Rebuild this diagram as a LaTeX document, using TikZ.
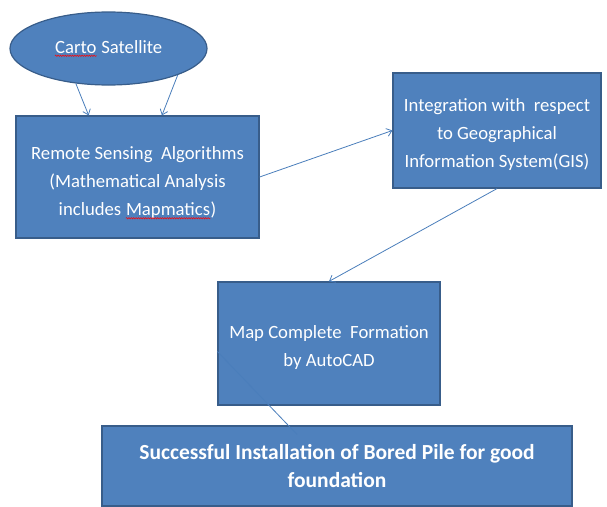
\documentclass[tikz,border=0pt]{standalone}
\usepackage{fontspec}
\setmainfont{Carlito}
\usetikzlibrary{shapes.geometric,calc,decorations.pathmorphing,arrows.meta}
\definecolor{boxfill}{HTML}{4F81BD}
\definecolor{boxline}{HTML}{385D8A}
\definecolor{linkline}{HTML}{4A7EBB}
\newcommand{\spellmark}[1]{\tikz[baseline=(w.base)]{\node[shape=rectangle,draw=none,fill=none,
        minimum width=0pt,minimum height=0pt,inner sep=0pt,text=white](w){#1};
    \draw[red,line width=0.5pt,decorate,decoration={snake,amplitude=0.7pt,segment length=2.4pt}]
    ([yshift=-2.5pt]w.base west)--([yshift=-2.5pt]w.base east);}}
\newcommand{\push}[1]{\rule{0pt}{#1pt}}
\begin{document}
\begin{tikzpicture}[x=1pt,y=-1pt,
        blockbox/.style={draw=boxline, line width=1.2pt, fill=boxfill, text=white,
            align=center, inner sep=0pt, font=\fontsize{18.7}{28}\selectfont},
        link/.style={draw=linkline, line width=0.8pt, -{Straight Barb[length=5pt,width=8pt]}}]
                \clip (0,0) rectangle (607,506);
                \node [blockbox, ellipse, minimum width=197, minimum height=73]
                    (sat) at (108.5,48.5) {\spellmark{Carto} Satellite};
                \node [blockbox, minimum width=243, minimum height=122]
                    (rsa) at (137.5,177) {\push{25}Remote Sensing\ \ Algorithms\\(Mathematical Analysis\\includes \spellmark{Mapmatics})};
                \node [blockbox, minimum width=208, minimum height=115]
                    (gis) at (497,130.5) {\push{22}Integration with\ \ respect\\to Geographical\\Information System(GIS)};
                \node [blockbox, minimum width=222, minimum height=123]
                    (map) at (329,343.5) {\push{21}Map Complete\ \ Formation\\by AutoCAD};
                \node [blockbox, minimum width=470, minimum height=80,
                       font=\fontsize{21.5}{28}\selectfont\bfseries]
                    (found) at (337,466) {Successful Installation of Bored Pile for good\\foundation};
                \draw [link] (sat.227) -- ($(rsa.north west)!0.3!(rsa.north east)$);
                \draw [link] (sat.-21) -- ($(rsa.north west)!0.6!(rsa.north east)$);
                \draw [link] (rsa.east) -- (gis.west);
                \draw [link] (gis.south) -- (map.north);
                \draw [draw=linkline, line width=0.8pt] ([yshift=-8]map.west)
                    -- ($(found.north west)!0.415!(found.north east)+(0,9)$);
\end{tikzpicture}
\end{document}
